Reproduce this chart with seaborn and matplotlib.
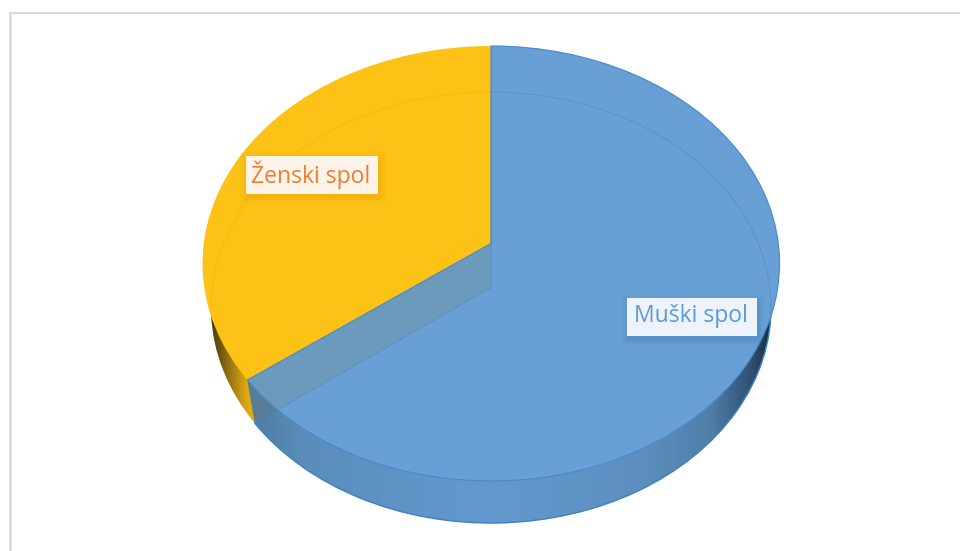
import numpy as np
import matplotlib
matplotlib.use('Agg')
import matplotlib.pyplot as plt
import seaborn as sns
from matplotlib.colors import LinearSegmentedColormap
from matplotlib.patches import PathPatch, Rectangle
from matplotlib.path import Path

categories=['Muški spol','Ženski spol']
values=[66,34]
face_colors=['#68A0D6','#FDC216']
text_colors=['#5B9BD5','#ED7D31']
box_colors=['#EEF3FB','#FDF3E8']
shadow_colors=['#3F78B0','#E89A00']

sns.set_theme(style='white')
plt.rcParams['font.family']=['Open Sans','DejaVu Sans']

fig=plt.figure(figsize=(9.6,5.51),dpi=100)
ax=fig.add_axes([0,0,1,1])

#unit pie, gets squashed to an ellipse below
wedges,_=ax.pie(values,startangle=90,counterclock=False,radius=1,center=(0,0))
unit_paths=[w.get_path() for w in wedges]
for w in wedges:
    w.remove()

ax.set_aspect('auto')
ax.set_xlim(0,960)
ax.set_ylim(551,0)
ax.axis('off')

def squash(path,cx,cy,rx,ry,rise):
    v=np.array(path.vertices,dtype=float)
    apex=np.all(np.abs(v)<1e-9,axis=1)
    out=np.column_stack([cx+v[:,0]*rx,cy-v[:,1]*ry])
    out[apex]=[cx,cy-rise]
    return Path(out,path.codes)

top=[squash(p,491,263.5,288.5,217.5,20) for p in unit_paths]
bottom=[squash(p,491,307.5,280,215.5,20) for p in unit_paths]

def wall(path,stops,x0,x1,z):
    cmap=LinearSegmentedColormap.from_list('wall',stops)
    im=ax.imshow(np.linspace(0,1,400).reshape(1,-1),extent=(x0,x1,551,0),cmap=cmap,aspect='auto',zorder=z,interpolation='bilinear')
    im.set_clip_path(PathPatch(path,transform=ax.transData))

#outer wall of the disc
wall(bottom[1],[(0,'#2E2408'),(0.25,'#6B5210'),(0.7,'#D8A414'),(1,'#F2BC16')],205,262,1)
wall(bottom[0],[(0,'#4F7C9E'),(0.1,'#5A8DBB'),(0.45,'#6399CF'),(0.75,'#5C8FBF'),(0.88,'#4F7FA9'),(0.96,'#2F4F70'),(1,'#14263C')],250,775,2)
ax.add_patch(PathPatch(bottom[0],facecolor='none',edgecolor='#3F86C9',lw=1,zorder=3))

#inner cut face between the two slices
end_top=top[0].vertices[0]
end_bot=bottom[0].vertices[0]
apex_top=(491,243.5)
apex_bot=(491,287.5)
face=Path([apex_top,end_top,end_bot,apex_bot,apex_top])
ax.add_patch(PathPatch(face,facecolor='#567C96',edgecolor='none',zorder=4))

ax.add_patch(PathPatch(top[1],facecolor=face_colors[1],edgecolor='none',zorder=5))
ax.add_patch(PathPatch(top[0],facecolor=face_colors[0],edgecolor='none',zorder=6))

overlay=PathPatch(face,facecolor='#7A8A70',edgecolor='none',alpha=0.25,zorder=7)
ax.add_patch(overlay)
overlay.set_clip_path(PathPatch(top[0],transform=ax.transData))

#faint lines seen through the top
back_yellow=PathPatch(bottom[1],facecolor='none',edgecolor='#E8AE10',lw=0.8,alpha=0.35,zorder=8)
ax.add_patch(back_yellow)
back_yellow.set_clip_path(PathPatch(top[1],transform=ax.transData))
ax.add_patch(PathPatch(bottom[0],facecolor='none',edgecolor='#3F78B0',lw=0.8,alpha=0.3,zorder=8))
ax.add_patch(PathPatch(top[0],facecolor='none',edgecolor='#4A8CCB',lw=0.9,zorder=9))

#grey frame of the picture
ax.plot([9.5,960],[12.5,12.5],color='#D9D9D9',lw=1.4,zorder=1)
ax.plot([9.5,9.5],[12.5,551],color='#D9D9D9',lw=1.8,zorder=1)

#data labels with soft shadow
boxes=[(627,298,130,38),(246,156,132,38)]
for name,col,bc,sc,(x,y,w,h) in zip(categories,text_colors,box_colors,shadow_colors,boxes):
    for grow,a in [(7,0.05),(5,0.07),(3,0.1),(1.5,0.14)]:
        ax.add_patch(Rectangle((x-grow+1,y-grow+3),w+2*grow,h+2*grow,facecolor=sc,edgecolor='none',alpha=a,zorder=10))
    ax.add_patch(Rectangle((x,y),w,h,facecolor=bc,edgecolor='none',zorder=11))
    ax.text(x+w/2-1,y+h/2-0.5,name,color=col,fontsize=16.5,ha='center',va='center',zorder=12)

plt.savefig('out.png',dpi=100)
